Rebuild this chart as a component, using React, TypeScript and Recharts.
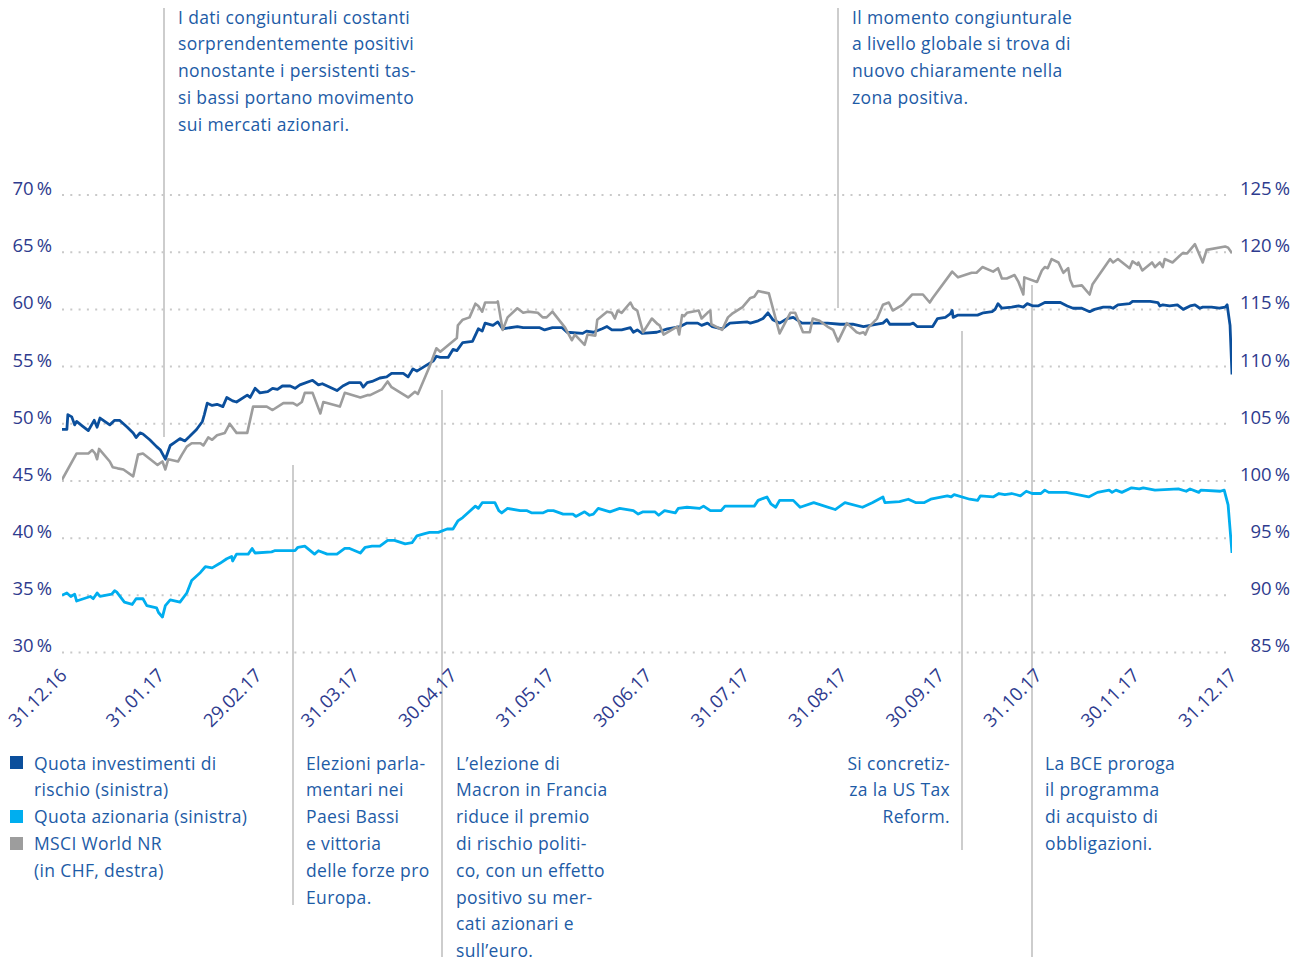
import React from 'react';
import { LineChart, Line, XAxis, YAxis, CartesianGrid } from 'recharts';

// ---------- data ----------
const MONTH_TICKS = [0, 1, 2, 3, 4, 5, 6, 7, 8, 9, 10, 11, 12];
const MONTH_LABELS = ['31.12.16', '31.01.17', '29.02.17', '31.03.17', '30.04.17', '31.05.17', '30.06.17', '31.07.17', '31.08.17', '30.09.17', '31.10.17', '30.11.17', '31.12.17'];
const LEFT_TICKS = [30, 35, 40, 45, 50, 55, 60, 65, 70];
const RIGHT_TICKS = [85, 90, 95, 100, 105, 110, 115, 120, 125];

// [month since 31.12.16, value]
const RISK_SHARE: [number, number][] = [
  [0, 49.5], [0.05, 49.5], [0.06, 50.8], [0.1, 50.6], [0.13, 49.9], [0.15, 50.2], [0.21, 49.8], [0.27, 49.4], [0.33, 50.3], [0.36, 49.7], [0.39, 50.5], [0.49, 49.9], [0.54, 50.3], [0.59, 50.3], [0.67, 49.7], [0.73, 49.2], [0.76, 48.8], [0.8, 49.2], [0.83, 49.1], [0.9, 48.6], [0.97, 48.0], [1.01, 47.7], [1.06, 46.9], [1.11, 48.1], [1.16, 48.4], [1.21, 48.7], [1.26, 48.5], [1.31, 48.9], [1.38, 49.5], [1.44, 50.2], [1.46, 50.8], [1.49, 51.8], [1.54, 51.6], [1.59, 51.7], [1.65, 51.5], [1.69, 52.3], [1.75, 52.0], [1.79, 51.9], [1.9, 52.5], [1.93, 52.3], [1.98, 53.1], [2.03, 52.7], [2.11, 52.8], [2.16, 53.1], [2.21, 53.0], [2.26, 53.3], [2.34, 53.3], [2.39, 53.1], [2.44, 53.4], [2.57, 53.8], [2.63, 53.4], [2.67, 53.5], [2.82, 52.9], [2.88, 53.3], [2.95, 53.6], [3.06, 53.6], [3.09, 53.2], [3.13, 53.6], [3.18, 53.7], [3.26, 54.0], [3.33, 54.1], [3.38, 54.4], [3.5, 54.4], [3.55, 54.1], [3.6, 54.8], [3.64, 54.6], [3.81, 55.5], [3.84, 55.9], [3.88, 55.8], [3.96, 55.8], [4.01, 56.5], [4.05, 56.4], [4.11, 57.1], [4.21, 57.2], [4.27, 58.3], [4.31, 58.1], [4.34, 58.8], [4.42, 58.6], [4.47, 58.9], [4.52, 58.3], [4.67, 58.5], [4.73, 58.4], [4.9, 58.4], [4.95, 58.2], [5.03, 58.4], [5.13, 58.4], [5.18, 58.0], [5.34, 57.9], [5.38, 58.1], [5.45, 58.0], [5.54, 58.3], [5.59, 58.5], [5.64, 58.2], [5.74, 58.2], [5.83, 58.4], [5.86, 58.0], [5.9, 58.2], [5.95, 57.9], [6.1, 58.0], [6.21, 58.3], [6.34, 58.5], [6.41, 58.8], [6.52, 58.8], [6.56, 58.6], [6.62, 58.8], [6.67, 58.5], [6.77, 58.3], [6.85, 58.8], [7.03, 58.9], [7.06, 58.8], [7.14, 59.0], [7.19, 59.2], [7.24, 59.7], [7.29, 59.1], [7.36, 58.8], [7.44, 59.2], [7.5, 59.3], [7.59, 58.8], [7.7, 58.8], [7.85, 58.8], [7.98, 58.7], [8.11, 58.7], [8.22, 58.5], [8.29, 58.6], [8.42, 58.8], [8.46, 59.1], [8.49, 58.7], [8.7, 58.7], [8.73, 58.8], [8.77, 58.5], [8.88, 58.5], [8.93, 58.5], [8.98, 59.2], [9.06, 59.3], [9.11, 59.6], [9.13, 59.9], [9.14, 59.3], [9.19, 59.5], [9.39, 59.5], [9.45, 59.7], [9.54, 59.8], [9.57, 60.0], [9.6, 60.5], [9.64, 60.1], [9.74, 60.2], [9.81, 60.3], [9.86, 60.2], [9.9, 60.5], [9.96, 60.3], [10.01, 60.3], [10.08, 60.6], [10.24, 60.6], [10.31, 60.3], [10.37, 60.1], [10.46, 60.1], [10.54, 59.8], [10.59, 60.0], [10.68, 60.2], [10.75, 60.2], [10.78, 60.1], [10.83, 60.4], [10.95, 60.5], [10.98, 60.7], [11.16, 60.7], [11.24, 60.6], [11.26, 60.3], [11.29, 60.4], [11.36, 60.3], [11.44, 60.4], [11.47, 60.2], [11.5, 60.0], [11.57, 60.3], [11.62, 60.4], [11.67, 60.1], [11.7, 60.2], [11.79, 60.2], [11.87, 60.1], [11.93, 60.2], [11.95, 60.4], [11.98, 58.6], [12, 54.3],
];

const EQUITY_SHARE: [number, number][] = [
  [0, 35.0], [0.05, 35.2], [0.09, 34.9], [0.13, 35.1], [0.15, 34.5], [0.29, 34.9], [0.32, 34.7], [0.36, 35.2], [0.39, 34.9], [0.51, 35.1], [0.54, 35.4], [0.56, 35.3], [0.64, 34.4], [0.72, 34.2], [0.76, 34.7], [0.83, 34.7], [0.87, 34.1], [0.97, 33.9], [0.99, 33.5], [1.03, 33.1], [1.06, 34.1], [1.11, 34.6], [1.21, 34.4], [1.28, 35.2], [1.33, 36.3], [1.42, 37.0], [1.47, 37.5], [1.54, 37.4], [1.62, 37.8], [1.69, 38.2], [1.74, 38.4], [1.75, 38.0], [1.79, 38.6], [1.91, 38.6], [1.95, 39.1], [1.98, 38.7], [2.15, 38.8], [2.18, 38.9], [2.39, 38.9], [2.42, 39.2], [2.49, 39.3], [2.59, 38.6], [2.63, 38.9], [2.72, 38.6], [2.82, 38.6], [2.9, 39.1], [2.95, 39.1], [3.06, 38.7], [3.11, 39.2], [3.18, 39.3], [3.26, 39.3], [3.34, 39.8], [3.41, 39.8], [3.52, 39.5], [3.59, 39.6], [3.64, 40.2], [3.72, 40.4], [3.77, 40.5], [3.86, 40.5], [3.95, 40.8], [4.01, 40.8], [4.06, 41.5], [4.11, 41.8], [4.24, 42.8], [4.27, 42.6], [4.31, 43.1], [4.44, 43.1], [4.48, 42.4], [4.51, 42.2], [4.57, 42.6], [4.7, 42.4], [4.77, 42.4], [4.82, 42.2], [4.93, 42.2], [4.98, 42.4], [5.04, 42.4], [5.14, 42.1], [5.24, 42.1], [5.27, 41.9], [5.36, 42.3], [5.41, 42.0], [5.45, 42.1], [5.5, 42.6], [5.62, 42.3], [5.72, 42.6], [5.86, 42.4], [5.91, 42.1], [5.96, 42.3], [6.08, 42.3], [6.12, 42.0], [6.18, 42.4], [6.29, 42.2], [6.32, 42.6], [6.41, 42.7], [6.54, 42.6], [6.58, 42.8], [6.65, 42.4], [6.76, 42.4], [6.8, 42.8], [6.86, 42.8], [7.1, 42.8], [7.14, 43.3], [7.23, 43.6], [7.27, 43.0], [7.32, 42.7], [7.36, 43.3], [7.5, 43.3], [7.57, 42.7], [7.71, 43.1], [7.93, 42.5], [8.03, 43.1], [8.21, 42.7], [8.31, 43.1], [8.42, 43.6], [8.44, 43.1], [8.59, 43.2], [8.68, 43.4], [8.76, 43.1], [8.84, 43.1], [8.91, 43.4], [9.08, 43.7], [9.12, 43.6], [9.15, 43.8], [9.31, 43.4], [9.39, 43.3], [9.42, 43.7], [9.55, 43.6], [9.61, 43.9], [9.67, 43.8], [9.74, 43.9], [9.83, 43.7], [9.89, 44.1], [9.95, 43.9], [10.04, 43.9], [10.08, 44.2], [10.12, 44.0], [10.3, 44.0], [10.53, 43.6], [10.62, 44.0], [10.74, 44.2], [10.77, 44.0], [10.81, 44.2], [10.87, 44.0], [10.97, 44.4], [11.05, 44.3], [11.09, 44.4], [11.21, 44.2], [11.45, 44.3], [11.53, 44.1], [11.57, 44.3], [11.66, 44.0], [11.68, 44.2], [11.88, 44.1], [11.92, 44.2], [11.96, 42.9], [12, 38.7],
];

const MSCI_WORLD: [number, number][] = [
  [0, 100.1], [0.15, 102.4], [0.27, 102.4], [0.31, 102.7], [0.34, 102.4], [0.36, 101.9], [0.38, 102.8], [0.49, 101.7], [0.52, 101.2], [0.57, 101.1], [0.63, 101.0], [0.73, 100.4], [0.78, 102.3], [0.83, 102.4], [0.98, 101.4], [1.03, 101.7], [1.06, 101.0], [1.09, 101.9], [1.19, 101.7], [1.23, 102.3], [1.28, 103.0], [1.33, 103.3], [1.42, 103.3], [1.45, 103.1], [1.5, 103.8], [1.54, 103.6], [1.59, 104.0], [1.67, 104.2], [1.72, 105.0], [1.79, 104.2], [1.9, 104.2], [1.96, 106.5], [2.1, 106.5], [2.16, 106.2], [2.27, 106.8], [2.37, 106.8], [2.41, 106.6], [2.46, 106.9], [2.49, 107.7], [2.57, 107.7], [2.65, 105.9], [2.68, 106.9], [2.85, 106.5], [2.9, 107.7], [3.06, 107.3], [3.13, 107.5], [3.16, 107.5], [3.28, 108.0], [3.34, 108.7], [3.38, 108.2], [3.55, 107.3], [3.62, 107.8], [3.65, 107.6], [3.77, 110.0], [3.84, 111.6], [3.88, 111.3], [4.05, 112.5], [4.06, 113.6], [4.11, 114.1], [4.18, 114.3], [4.24, 115.5], [4.27, 115.3], [4.31, 114.8], [4.34, 115.6], [4.46, 115.6], [4.47, 115.7], [4.52, 113.2], [4.57, 114.3], [4.67, 115.1], [4.73, 114.7], [4.78, 114.8], [4.88, 114.7], [4.93, 114.3], [4.97, 114.3], [5.03, 114.8], [5.16, 113.4], [5.23, 112.3], [5.26, 112.8], [5.36, 111.9], [5.39, 112.8], [5.47, 112.7], [5.49, 114.1], [5.59, 114.8], [5.64, 114.7], [5.67, 114.2], [5.7, 114.9], [5.74, 114.7], [5.83, 115.6], [5.86, 115.1], [5.9, 114.9], [5.96, 113.0], [6.05, 114.2], [6.11, 113.7], [6.13, 113.6], [6.17, 112.8], [6.31, 113.5], [6.33, 112.8], [6.36, 114.5], [6.38, 114.4], [6.41, 114.7], [6.53, 114.9], [6.56, 114.2], [6.62, 114.7], [6.65, 114.9], [6.66, 113.7], [6.77, 113.2], [6.83, 114.3], [6.87, 114.6], [6.98, 115.2], [7.06, 116.0], [7.1, 116.1], [7.14, 116.6], [7.25, 116.4], [7.36, 112.9], [7.47, 114.7], [7.52, 114.7], [7.6, 113.0], [7.67, 113.0], [7.7, 114.2], [7.77, 114.0], [7.85, 113.5], [7.91, 113.2], [7.96, 112.2], [8.05, 113.8], [8.15, 113.0], [8.18, 112.9], [8.22, 113.0], [8.24, 112.8], [8.27, 113.4], [8.36, 114.2], [8.42, 115.4], [8.48, 115.6], [8.52, 114.9], [8.62, 115.4], [8.72, 116.3], [8.83, 116.3], [8.9, 115.6], [8.93, 116.0], [9.13, 118.3], [9.19, 117.8], [9.33, 118.2], [9.38, 118.2], [9.44, 118.7], [9.55, 118.3], [9.6, 118.6], [9.64, 117.7], [9.69, 117.7], [9.77, 118.0], [9.81, 117.4], [9.86, 116.3], [9.87, 117.8], [10.0, 117.4], [10.05, 118.4], [10.08, 118.7], [10.11, 118.6], [10.15, 119.4], [10.22, 119.1], [10.27, 118.2], [10.32, 118.6], [10.34, 117.6], [10.37, 117.0], [10.46, 117.1], [10.54, 116.3], [10.57, 117.2], [10.75, 119.4], [10.78, 119.1], [10.83, 119.4], [10.95, 118.6], [10.98, 119.2], [11.03, 118.9], [11.04, 119.1], [11.08, 118.4], [11.18, 119.1], [11.21, 118.7], [11.26, 119.1], [11.29, 118.7], [11.31, 119.4], [11.39, 119.1], [11.49, 119.9], [11.54, 119.9], [11.62, 120.7], [11.7, 119.1], [11.74, 120.2], [11.93, 120.5], [11.96, 120.4], [12, 119.9],
];

const LEGEND_ITEMS = [
  { lines: ['Quota investimenti di', 'rischio (sinistra)'], color: '#0b4f9c' },
  { lines: ['Quota azionaria (sinistra)'], color: '#00aeef' },
  { lines: ['MSCI World NR', '(in CHF, destra)'], color: '#9d9d9d' },
];

const NOTE_TEXTS = {
  sentiment: ['I dati congiunturali costanti', 'sorprendentemente positivi', 'nonostante i persistenti tas-', 'si bassi portano movimento', 'sui mercati azionari.'],
  global: ['Il momento congiunturale', 'a livello globale si trova di', 'nuovo chiaramente nella', 'zona positiva.'],
  dutch: ['Elezioni parla-', 'mentari nei', 'Paesi Bassi', 'e vittoria', 'delle forze pro', 'Europa.'],
  macron: ['L\u2019elezione di', 'Macron in Francia', 'riduce il premio', 'di rischio politi-', 'co, con un effetto', 'positivo su mer-', 'cati azionari e', 'sull\u2019euro.'],
  tax: ['Si concretiz-', 'za la US Tax', 'Reform.'],
  ecb: ['La BCE proroga', 'il programma', 'di acquisto di', 'obbligazioni.'],
};

// ---------- styles ----------
const FONT = '"Open Sans", "Noto Sans", sans-serif';
const AXIS_COLOR = '#2e3b8e';
const NOTE_COLOR = '#1d5ba6';
const RULE_COLOR = '#cdcdcd';
const LINE_H = 26.8;
const AXIS_FS = 18.5;
const NOTE_FS = 17.5;

const toRows = (arr: [number, number][]) => arr.map(([m, v]) => ({ m, v }));

const XTick = (props: any) => {
  const { x, y, payload } = props;
  return (
    <g transform={`translate(${x + 6},${y + 24})`}>
      <text transform="rotate(-45)" textAnchor="end" fill={AXIS_COLOR} fontSize={AXIS_FS} fontWeight={500} fontFamily={FONT}>
        {MONTH_LABELS[payload.value]}
      </text>
    </g>
  );
};

const LeftTick = (props: any) => {
  const { x, y, payload } = props;
  return (
    <text x={x} y={y - 5} textAnchor="end" dominantBaseline="middle" fill={AXIS_COLOR} fontSize={AXIS_FS} fontWeight={500} fontFamily={FONT}>
      {`${payload.value}\u2009%`}
    </text>
  );
};

const RightTick = (props: any) => {
  const { x, y, payload } = props;
  return (
    <text x={x + 48} y={y - 5} textAnchor="end" dominantBaseline="middle" fill={AXIS_COLOR} fontSize={AXIS_FS} fontWeight={500} fontFamily={FONT}>
      {`${payload.value}\u2009%`}
    </text>
  );
};

const Note = ({ lines, left, top, align = 'left', width }: { lines: string[]; left: number; top: number; align?: 'left' | 'right'; width?: number }) => (
  <div
    style={{
      position: 'absolute',
      left,
      top,
      width,
      textAlign: align,
      fontFamily: FONT,
      fontSize: NOTE_FS,
      fontWeight: 500,
      letterSpacing: 0.35,
      lineHeight: `${LINE_H}px`,
      color: NOTE_COLOR,
      whiteSpace: 'pre',
    }}
  >
    {lines.map((l, i) => (
      <div key={i}>{l}</div>
    ))}
  </div>
);

const Rule = ({ x, y1, y2 }: { x: number; y1: number; y2: number }) => (
  <div style={{ position: 'absolute', left: x - 1, top: y1, width: 2, height: y2 - y1, background: RULE_COLOR }} />
);

export default function App() {
  return (
    <div style={{ position: 'absolute', left: 0, top: 0, width: 1301, height: 957, background: '#fff', overflow: 'hidden' }}>
      <Rule x={164} y1={8} y2={437} />
      <Rule x={293} y1={465} y2={905} />
      <Rule x={442} y1={390} y2={957} />
      <Rule x={838} y1={8} y2={308} />
      <Rule x={962} y1={331} y2={850} />
      <Rule x={1032} y1={285} y2={957} />

      <div style={{ position: 'absolute', left: 0, top: 0 }}>
        <LineChart width={1301} height={957} margin={{ top: 195, right: 0, bottom: 224.5, left: 0 }}>
          <CartesianGrid yAxisId="left" horizontal vertical={false} stroke="#c9c9c9" strokeWidth={2} strokeDasharray="2 6.3" />
          <XAxis
            dataKey="m"
            type="number"
            domain={[0, 12]}
            ticks={MONTH_TICKS}
            interval={0}
            height={80}
            axisLine={false}
            tickLine={false}
            tickSize={0}
            tickMargin={0}
            tick={<XTick />}
            allowDataOverflow
          />
          <YAxis
            yAxisId="left"
            orientation="left"
            width={62}
            domain={[30, 70]}
            ticks={LEFT_TICKS}
            interval={0}
            axisLine={false}
            tickLine={false}
            tickSize={0}
            tickMargin={10}
            tick={<LeftTick />}
            allowDataOverflow
          />
          <YAxis
            yAxisId="right"
            orientation="right"
            width={69}
            domain={[85, 125]}
            ticks={RIGHT_TICKS}
            interval={0}
            axisLine={false}
            tickLine={false}
            tickSize={0}
            tickMargin={10}
            tick={<RightTick />}
            allowDataOverflow
          />
          <Line yAxisId="left" data={toRows(RISK_SHARE)} dataKey="v" type="linear" stroke="#0b4f9c" strokeWidth={2.8} dot={false} activeDot={false} isAnimationActive={false} strokeLinejoin="round" />
          <Line yAxisId="right" data={toRows(MSCI_WORLD)} dataKey="v" type="linear" stroke="#9d9d9d" strokeWidth={2.6} dot={false} activeDot={false} isAnimationActive={false} strokeLinejoin="round" />
          <Line yAxisId="left" data={toRows(EQUITY_SHARE)} dataKey="v" type="linear" stroke="#00aeef" strokeWidth={2.8} dot={false} activeDot={false} isAnimationActive={false} strokeLinejoin="round" />
        </LineChart>
      </div>

      <Note lines={NOTE_TEXTS.sentiment} left={178} top={17 - LINE_H / 2} />
      <Note lines={NOTE_TEXTS.global} left={852} top={17 - LINE_H / 2} />
      <Note lines={NOTE_TEXTS.dutch} left={306} top={763 - LINE_H / 2} />
      <Note lines={NOTE_TEXTS.macron} left={456} top={763 - LINE_H / 2} />
      <Note lines={NOTE_TEXTS.tax} left={790} width={160} align="right" top={763 - LINE_H / 2} />
      <Note lines={NOTE_TEXTS.ecb} left={1045} top={763 - LINE_H / 2} />

      <div style={{ position: 'absolute', left: 0, top: 763 - LINE_H / 2 }}>
        {LEGEND_ITEMS.map((item, i) => (
          <div key={i} style={{ position: 'relative' }}>
            <div style={{ position: 'absolute', left: 10, top: (LINE_H - 13) / 2, width: 13, height: 13, background: item.color }} />
            <Note lines={item.lines} left={34} top={0} />
            <div style={{ height: item.lines.length * LINE_H }} />
          </div>
        ))}
      </div>
    </div>
  );
}
